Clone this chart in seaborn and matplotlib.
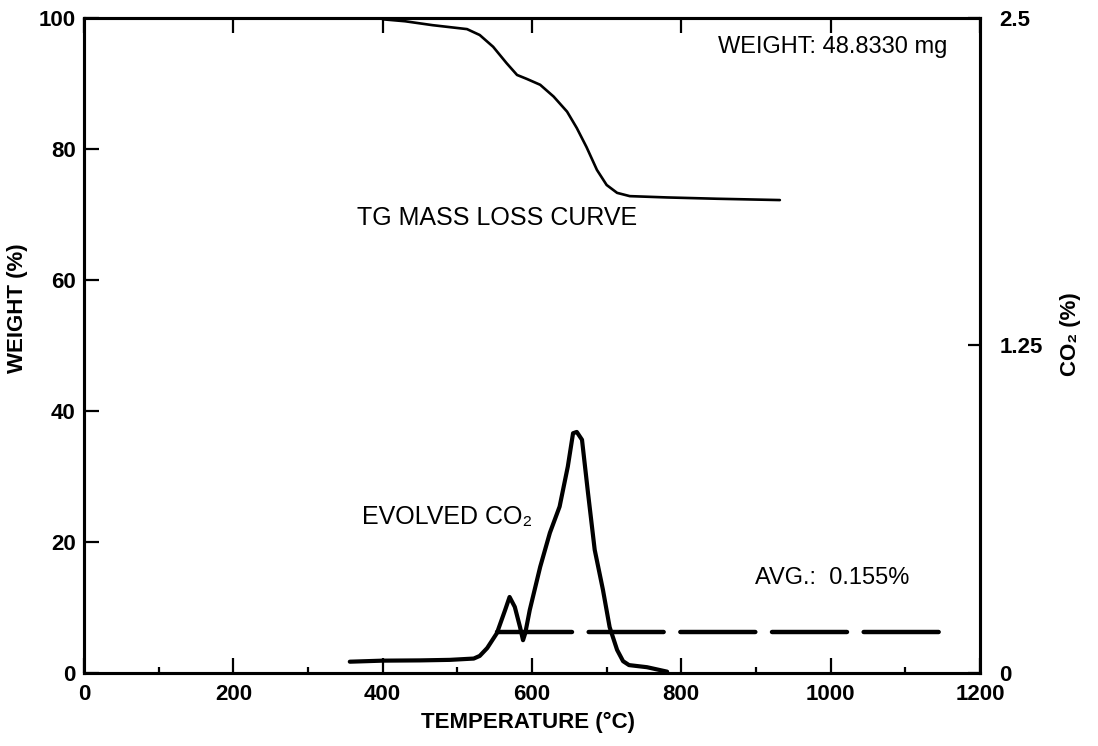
import matplotlib
matplotlib.use("Agg")
import matplotlib.pyplot as plt
import seaborn as sns
from matplotlib.ticker import MultipleLocator

# TG mass loss curve (left axis, weight %)
tg_temp = [400, 430, 467, 513, 530, 548, 566, 580, 593, 611, 629, 647, 660, 673, 687, 700,
           714, 731, 781, 848, 932]
tg_weight = [99.8, 99.5, 98.9, 98.3, 97.4, 95.6, 93.1, 91.3, 90.7, 89.8, 88.0, 85.7, 83.2,
             80.3, 76.8, 74.5, 73.3, 72.8, 72.6, 72.4, 72.2]

# evolved CO2 curve (right axis, CO2 %)
co2_temp = [356, 400, 450, 490, 522, 530, 540, 553, 564, 570, 577, 584, 588, 591, 597, 611, 624,
            637, 648, 655, 660, 667, 675, 684, 695, 704, 714, 722, 730, 754, 781]
co2_pct = [0.043, 0.047, 0.048, 0.050, 0.055, 0.065, 0.095, 0.152, 0.240, 0.290, 0.252, 0.175,
           0.125, 0.152, 0.240, 0.405, 0.535, 0.635, 0.788, 0.915, 0.920, 0.890, 0.688, 0.470,
           0.318, 0.175, 0.088, 0.045, 0.030, 0.022, 0.005]

# average CO2 level
avg_temp = [553, 1156]
avg_co2 = [0.155, 0.155]

temp_ticks = [0, 200, 400, 600, 800, 1000, 1200]
weight_ticks = [0, 20, 40, 60, 80, 100]
co2_ticks = [0, 1.25, 2.5]
co2_tick_labels = ["0", "1.25", "2.5"]

sns.set_style("ticks")
plt.rcParams['font.family'] = ['Liberation Sans', 'DejaVu Sans']
plt.rcParams['text.color'] = 'black'
plt.rcParams['axes.labelcolor'] = 'black'
plt.rcParams['xtick.color'] = 'black'
plt.rcParams['ytick.color'] = 'black'
plt.rcParams['lines.scale_dashes'] = False

fig = plt.figure(figsize=(10.98, 7.46), dpi=100)
ax = fig.add_axes([0.0765, 0.0979, 0.816, 0.878])
ax2 = ax.twinx()

sns.lineplot(x=tg_temp, y=tg_weight, ax=ax, color='black', linewidth=1.9, estimator=None)
sns.lineplot(x=co2_temp, y=co2_pct, ax=ax2, color='black', linewidth=3.0, estimator=None)
ax2.plot(avg_temp, avg_co2, color='black', linewidth=3.2,
         linestyle=(0, (54, 12)), dash_capstyle='round')

ax.set_xlim(0, 1200)
ax.set_ylim(0, 100)
ax2.set_ylim(0, 2.5)

ax.set_xticks(temp_ticks)
ax.xaxis.set_minor_locator(MultipleLocator(100))
ax.set_yticks(weight_ticks)
ax2.set_yticks(co2_ticks)
ax2.set_yticklabels(co2_tick_labels)

ax.tick_params(axis='x', which='major', direction='in', length=11, width=1.6,
               top=True, labelsize=16, pad=8)
ax.tick_params(axis='x', which='minor', direction='in', length=4.5, width=1.6,
               top=False, bottom=True)
ax.tick_params(axis='y', which='major', direction='in', length=11, width=1.6,
               labelsize=16, pad=6, right=False)
ax2.tick_params(axis='y', direction='in', length=9, width=1.6, labelsize=16, pad=14)

for lbl in ax.get_xticklabels() + ax.get_yticklabels() + ax2.get_yticklabels():
    lbl.set_fontweight('bold')

for a in (ax, ax2):
    for sp in a.spines.values():
        sp.set_linewidth(2.2)
        sp.set_color('black')

ax.set_xlabel("TEMPERATURE (°C)", fontsize=16, fontweight='bold')
ax.set_ylabel("WEIGHT (%)", fontsize=16, fontweight='bold')
ax2.set_ylabel("CO₂ (%)", fontsize=16, fontweight='bold')
ax.xaxis.set_label_coords(0.4955, -0.0595)
ax.yaxis.set_label_coords(-0.0625, 0.557)
ax2.yaxis.set_label_coords(1.089, 0.5176)

ax.text(366, 69.5, "TG MASS LOSS CURVE", fontsize=18, va='center')
ax.text(849, 95.6, "WEIGHT: 48.8330 mg", fontsize=17, va='center')
ax.text(372, 23.8, "EVOLVED CO₂", fontsize=18, va='center')
ax.text(899, 14.5, "AVG.:  0.155%", fontsize=17, va='center')

fig.savefig("out.png", dpi=100)
